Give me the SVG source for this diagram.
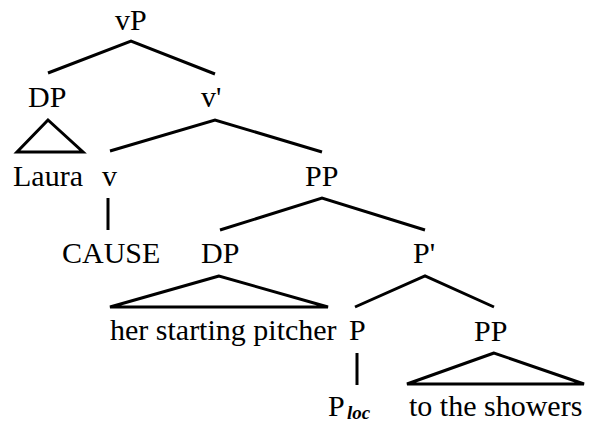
<svg xmlns="http://www.w3.org/2000/svg" width="592" height="424" viewBox="0 0 592 424">
<rect width="592" height="424" fill="#fff"/>
<g id="connectors" stroke="#000" stroke-width="3" fill="none">
<polyline points="48,73 131,41 215,74"/>
<polygon points="48,120 17,152 83,152"/>
<polyline points="110,151 215,120 322,152"/>
<polyline points="220,230 322,198 425,230"/>
<line x1="108" y1="198" x2="108" y2="230"/>
<polygon points="219,276 110,307 328,307"/>
<polyline points="355,307 425,276 494,307"/>
<line x1="357" y1="353" x2="357" y2="385"/>
<polygon points="494,353 407,384 584,384"/>
</g>
<g id="n-vP"><text x="115" y="30" font-family="Liberation Serif" font-size="30">vP</text></g>
<g id="n-DP1"><text x="28" y="107" font-family="Liberation Serif" font-size="30">DP</text></g>
<g id="n-vbar"><text x="201" y="107" font-family="Liberation Serif" font-size="30">v'</text></g>
<g id="n-Laura"><text x="13" y="186" font-family="Liberation Serif" font-size="30">Laura</text></g>
<g id="n-v"><text x="102" y="186" font-family="Liberation Serif" font-size="30">v</text></g>
<g id="n-PP1"><text x="305" y="186" font-family="Liberation Serif" font-size="30">PP</text></g>
<g id="n-CAUSE"><text x="62" y="263" font-family="Liberation Serif" font-size="30">CAUSE</text></g>
<g id="n-DP2"><text x="201" y="263" font-family="Liberation Serif" font-size="30">DP</text></g>
<g id="n-Pbar"><text x="413" y="263" font-family="Liberation Serif" font-size="30">P'</text></g>
<g id="n-her"><text x="110" y="340" font-family="Liberation Serif" font-size="30">her starting pitcher</text></g>
<g id="n-P"><text x="349" y="340" font-family="Liberation Serif" font-size="30">P</text></g>
<g id="n-PP2"><text x="474" y="341" font-family="Liberation Serif" font-size="30">PP</text></g>
<g id="n-Ploc"><text x="328" y="416" font-family="Liberation Serif" font-size="30">P</text><text x="347" y="419" font-family="Liberation Serif" font-size="19" font-style="italic" font-weight="bold">loc</text></g>
<g id="n-showers"><text x="409" y="416" font-family="Liberation Serif" font-size="30">to the showers</text></g>
</svg>
